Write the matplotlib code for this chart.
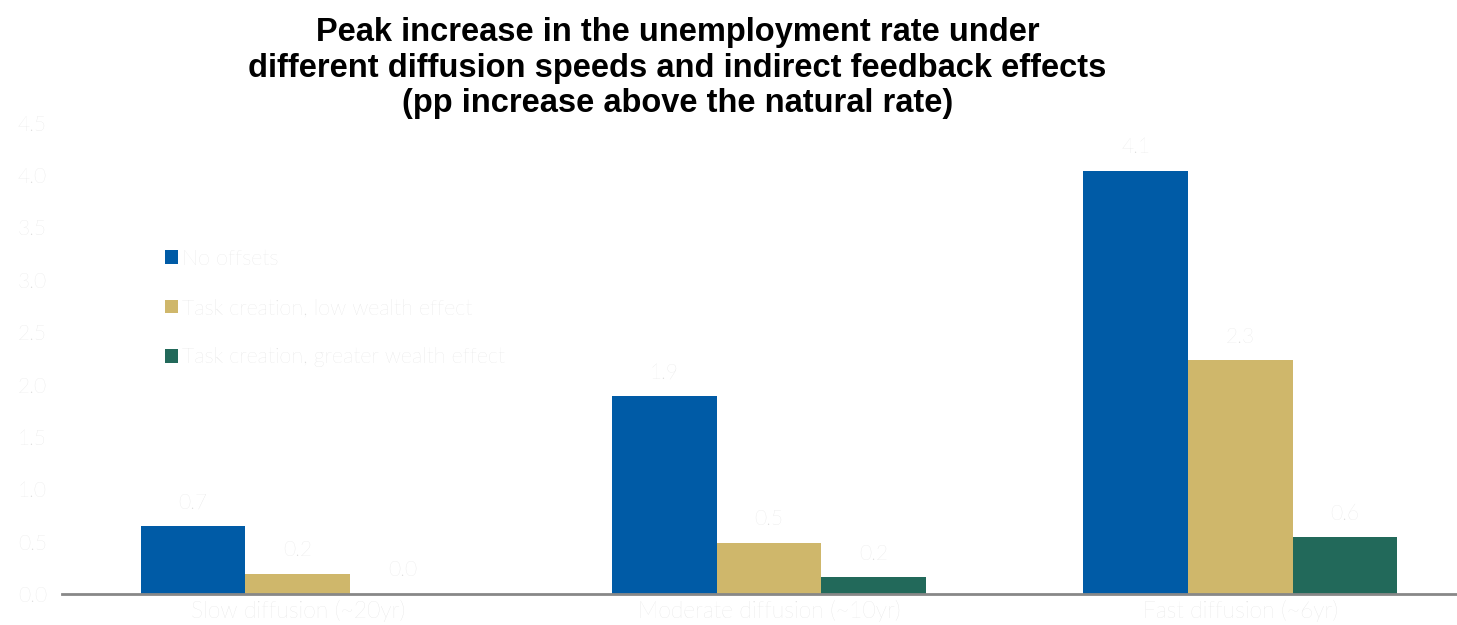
import matplotlib
matplotlib.use("Agg")
import matplotlib.pyplot as plt
import numpy as np

categories = ["Slow diffusion (~20yr)", "Moderate diffusion (~10yr)", "Fast diffusion (~6yr)"]
series_names = ["No offsets", "Task creation, low wealth effect", "Task creation, greater wealth effect"]
no_offsets = [0.65, 1.89, 4.04]
low_wealth = [0.19, 0.49, 2.23]
greater_wealth = [0.0, 0.16, 0.54]
no_offsets_labels = ["0.7", "1.9", "4.1"]
low_wealth_labels = ["0.2", "0.5", "2.3"]
greater_wealth_labels = ["0.0", "0.2", "0.6"]
yticks = [0.0, 0.5, 1.0, 1.5, 2.0, 2.5, 3.0, 3.5, 4.0, 4.5]
title = ("Peak increase in the unemployment rate under\n"
         "different diffusion speeds and indirect feedback effects\n"
         "(pp increase above the natural rate)")

colors = ["#005BA6", "#CFB76B", "#22695A"]
light = "#dcdcdc"
thin_font = ["Lato", "DejaVu Sans"]

fig = plt.figure(figsize=(14.57, 6.25), dpi=100)
ax = fig.add_axes([0.0426, 0.0496, 0.9574, 0.7540])

x = np.arange(len(categories))
w = 0.222
series = [no_offsets, low_wealth, greater_wealth]
labels = [no_offsets_labels, low_wealth_labels, greater_wealth_labels]
for i, (vals, labs) in enumerate(zip(series, labels)):
    pos = x + (i - 1) * w
    ax.bar(pos, vals, width=w, color=colors[i], label=series_names[i], zorder=2)
    for px, v, lab in zip(pos, vals, labs):
        ax.annotate(lab, (px, v), xytext=(0, 17), textcoords="offset points",
                    ha="center", va="center", fontsize=15, color=light,
                    family=thin_font, fontweight="light")

ax.set_xlim(-0.5, 2.46)
ax.set_ylim(0, 4.5)
ax.set_yticks(yticks)
ax.set_yticklabels([f"{t:.1f}" for t in yticks], family=thin_font, fontweight="light",
                   fontsize=15, color=light)
ax.set_xticks(x)
ax.set_xticklabels(categories, family=thin_font, fontweight="light", fontsize=16.5, color=light)
ax.tick_params(axis="both", length=0)
ax.tick_params(axis="x", pad=4)
ax.tick_params(axis="y", pad=11)
for s in ["top", "right", "left"]:
    ax.spines[s].set_visible(False)
ax.spines["bottom"].set_color("#888888")
ax.spines["bottom"].set_linewidth(2)

leg = ax.legend(loc="upper left", bbox_to_anchor=(0.1, 0.133, 0.2, 0.5),
                bbox_transform=fig.transFigure, frameon=False,
                handlelength=0.6, handleheight=0.6, handletextpad=0.2,
                labelspacing=1.36, prop={"family": thin_font, "weight": "light", "size": 15.5})
for t in leg.get_texts():
    t.set_color(light)

fig.text(0.465, 0.972, title, ha="center", va="top", fontsize=23.5, fontweight="bold",
         family=["Liberation Sans", "DejaVu Sans"], color="black", linespacing=1.17)

fig.savefig("out.png", dpi=100)
